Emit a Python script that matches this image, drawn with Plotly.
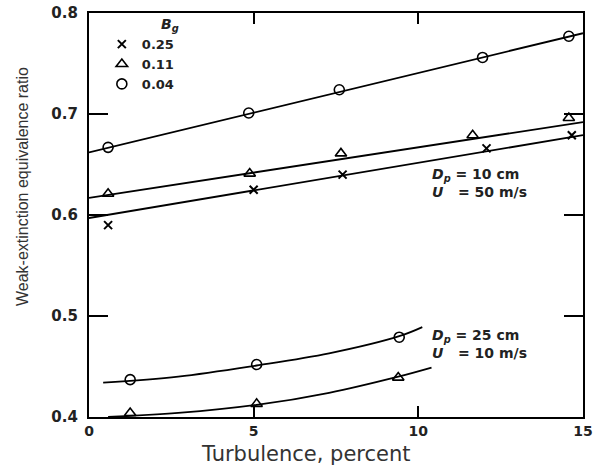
import plotly.graph_objects as go

# measured points (turbulence %, weak-extinction equivalence ratio)
x_025 = [0.58, 5.0, 7.7, 12.07, 14.66]
y_025 = [0.590, 0.625, 0.640, 0.666, 0.679]
x_011 = [0.58, 4.88, 7.65, 11.65, 14.57]
y_011 = [0.621, 0.641, 0.661, 0.679, 0.696]
x_004 = [0.58, 4.85, 7.6, 11.95, 14.57]
y_004 = [0.667, 0.701, 0.724, 0.756, 0.777]
x_low_004 = [1.25, 5.09, 9.42]
y_low_004 = [0.437, 0.452, 0.479]
x_low_011 = [1.25, 5.09, 9.39]
y_low_011 = [0.404, 0.413, 0.439]

# fitted lines/curves
fit_x = [0, 15]
fit_025 = [0.597, 0.679]
fit_011 = [0.617, 0.692]
fit_004 = [0.662, 0.780]
curve_x_004 = [0.43, 2.71, 5.09, 7.29, 9.42, 10.12]
curve_y_004 = [0.434, 0.440, 0.451, 0.463, 0.480, 0.489]
curve_x_011 = [0.58, 2.71, 5.09, 7.29, 9.39, 10.4]
curve_y_011 = [0.400, 0.404, 0.412, 0.424, 0.440, 0.449]

x_ticks = [0, 5, 10, 15]
y_ticks = [0.4, 0.5, 0.6, 0.7, 0.8]
y_ticktext = ["0.4", "0.5", "0.6", "0.7", "0.8"]
legend_names = ["0.25", "0.11", "0.04"]

fig = go.Figure()
line = dict(color="black", width=1.8)
fig.add_trace(go.Scatter(x=fit_x, y=fit_025, mode="lines", line=line, showlegend=False))
fig.add_trace(go.Scatter(x=fit_x, y=fit_011, mode="lines", line=line, showlegend=False))
fig.add_trace(go.Scatter(x=fit_x, y=fit_004, mode="lines", line=line, showlegend=False))
fig.add_trace(go.Scatter(x=curve_x_004, y=curve_y_004, mode="lines", line=dict(line, shape="spline"), showlegend=False))
fig.add_trace(go.Scatter(x=curve_x_011, y=curve_y_011, mode="lines", line=dict(line, shape="spline"), showlegend=False))

mk_x = dict(symbol="x-thin-open", size=8, color="black", line=dict(color="black", width=2))
mk_t = dict(symbol="triangle-up-open", size=10, color="black", line=dict(color="black", width=1.6))
mk_c = dict(symbol="circle-open", size=10, color="black", line=dict(color="black", width=1.6))
fig.add_trace(go.Scatter(x=x_025, y=y_025, mode="markers", marker=mk_x, name=legend_names[0]))
fig.add_trace(go.Scatter(x=x_011, y=y_011, mode="markers", marker=mk_t, name=legend_names[1]))
fig.add_trace(go.Scatter(x=x_004, y=y_004, mode="markers", marker=mk_c, name=legend_names[2]))
fig.add_trace(go.Scatter(x=x_low_011, y=y_low_011, mode="markers", marker=mk_t, showlegend=False))
fig.add_trace(go.Scatter(x=x_low_004, y=y_low_004, mode="markers", marker=mk_c, showlegend=False))

fig.update_xaxes(range=[0, 15], tickvals=x_ticks, ticktext=[str(v) for v in x_ticks],
                 ticks="inside", ticklen=11, tickwidth=2, tickcolor="black",
                 showline=True, linewidth=2.2, linecolor="black", mirror="ticks",
                 showgrid=False, zeroline=False, automargin=False, ticklabelstandoff=0,
                 tickfont=dict(family="DejaVu Sans", size=14, color="#222", weight="bold"))
fig.update_yaxes(range=[0.4, 0.8], tickvals=y_ticks, ticktext=y_ticktext,
                 ticks="inside", ticklen=19, tickwidth=2, tickcolor="black",
                 showline=True, linewidth=2.2, linecolor="black", mirror="ticks",
                 showgrid=False, zeroline=False, automargin=False, ticklabelstandoff=6,
                 tickfont=dict(family="DejaVu Sans", size=15, color="#222", weight="bold"))

ann_font = dict(family="DejaVu Sans", size=14, color="#222")
fig.update_layout(
    width=604, height=466,
    margin=dict(l=89, r=21, t=13, b=49),
    paper_bgcolor="white", plot_bgcolor="white",
    font=dict(family="DejaVu Sans", color="#222"),
    showlegend=True,
    legend=dict(x=0.026, y=0.96, xanchor="left", yanchor="top", bgcolor="rgba(0,0,0,0)",
                font=dict(family="DejaVu Sans", size=13, color="#222", weight="bold"),
                tracegroupgap=0, itemwidth=30),
    annotations=[
        dict(x=-0.135, y=0.57, xref="paper", yref="paper", xanchor="center", yanchor="middle",
             text="Weak-extinction equivalence ratio",
             textangle=-90, showarrow=False, font=dict(family="Liberation Sans", size=16, color="#333")),
        dict(x=0.44, y=-0.058, xref="paper", yref="paper", xanchor="center", yanchor="top",
             text="Turbulence, percent", showarrow=False,
             font=dict(family="DejaVu Sans", size=21, color="#333")),
        dict(x=0.164, y=0.97, xref="paper", yref="paper", xanchor="center", yanchor="middle",
             text="<b><i>B<sub>g</sub></i></b>", showarrow=False, font=ann_font),
        dict(x=0.69, y=0.58, xref="paper", yref="paper", xanchor="left", yanchor="middle", align="left",
             text="<b><i>D<sub>p</sub></i> = 10 cm<br><i>U</i>   = 50 m/s</b>",
             showarrow=False, font=ann_font),
        dict(x=0.69, y=0.18, xref="paper", yref="paper", xanchor="left", yanchor="middle", align="left",
             text="<b><i>D<sub>p</sub></i> = 25 cm<br><i>U</i>   = 10 m/s</b>",
             showarrow=False, font=ann_font),
    ],
)
fig.write_html("out.html", config={"displayModeBar": False},
               post_script="document.body.style.margin='0';")
